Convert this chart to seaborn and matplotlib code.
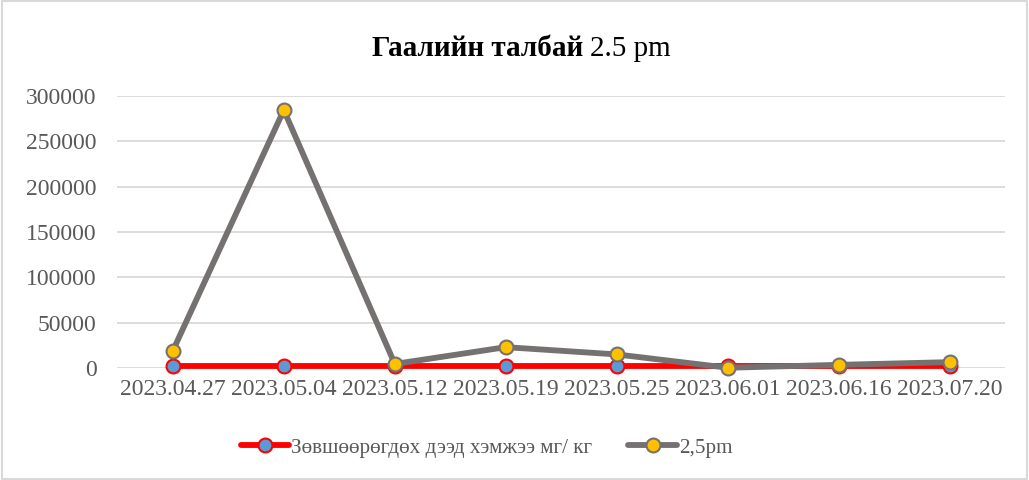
import matplotlib
matplotlib.use("Agg")
import matplotlib.pyplot as plt
import pandas as pd
import seaborn as sns

sns.set_theme(style="white")
plt.rcParams["font.family"] = ["Liberation Serif", "DejaVu Serif"]

dates = ["2023.04.27", "2023.05.04", "2023.05.12", "2023.05.19",
         "2023.05.25", "2023.06.01", "2023.06.16", "2023.07.20"]
limit_vals = [2000, 2000, 2000, 2000, 2000, 2000, 2000, 2000]
pm25_vals = [19000, 284500, 4500, 23000, 15000, 300, 3500, 6500]

limit_label = "Зөвшөөрөгдөх дээд хэмжээ мг/ кг"
pm_label = "2,5pm"

df = pd.DataFrame({"date": dates, "limit": limit_vals, "pm": pm25_vals})

fig = plt.figure(figsize=(10.29, 4.8), dpi=100)
ax = fig.add_axes([0.114, 0.2333, 0.863, 0.5667])

sns.lineplot(data=df, x="date", y="limit", sort=False, ax=ax, color="#FF0000",
             linewidth=4.2, marker="o", markersize=10, markerfacecolor="#5B9BD5",
             markeredgecolor="#FF0000", markeredgewidth=1.5, label=limit_label,
             clip_on=False)
sns.lineplot(data=df, x="date", y="pm", sort=False, ax=ax, color="#767171",
             linewidth=4.2, marker="o", markersize=10, markerfacecolor="#FFC000",
             markeredgecolor="#767171", markeredgewidth=1.5, label=pm_label,
             clip_on=False)

ax.set_xlim(-0.5, len(dates) - 0.5)
ax.set_ylim(0, 300000)
ax.set_yticks(range(0, 300001, 50000))
ax.yaxis.grid(True, color="#D9D9D9", linewidth=1.3)
ax.set_axisbelow(True)
for s in ax.spines.values():
    s.set_visible(False)
ax.set_xlabel("")
ax.set_ylabel("")
ax.tick_params(axis="both", labelsize=17, colors="#595959", length=0)
ax.tick_params(axis="y", pad=15)
ax.tick_params(axis="x", pad=8)

handles, labels = ax.get_legend_handles_labels()
ax.get_legend().remove()
fig.legend(handles, labels, loc="center", bbox_to_anchor=(0.473, 0.067), ncol=2,
           frameon=False, fontsize=15.2, labelcolor="#595959", handlelength=2.3,
           handletextpad=0.1, columnspacing=1.7)

fig.text(0.567, 0.898, "Гаалийн талбай", ha="right", va="center",
         fontsize=21, fontweight="bold", color="#000000")
fig.text(0.573, 0.898, "2.5 pm", ha="left", va="center",
         fontsize=21, color="#000000")

fig.patches.append(plt.Rectangle((0.002, 0.003), 0.996, 0.994, transform=fig.transFigure,
                                 fill=False, edgecolor="#D9D9D9", linewidth=1.5))

fig.savefig("out.png", dpi=100)
